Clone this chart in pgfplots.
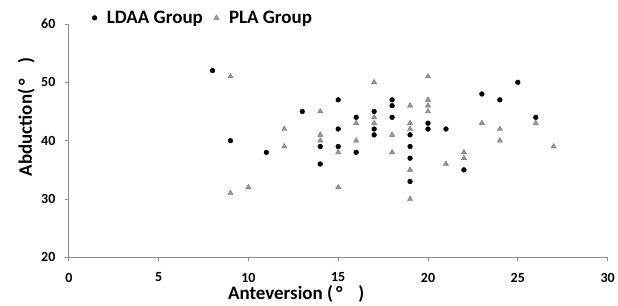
\documentclass[border=0pt]{standalone}
\usepackage{fontspec}
\setmainfont{Carlito}
\usepackage{pgfplots}
\pgfplotsset{compat=1.18}
\definecolor{axgray}{HTML}{8C8C8C}
\definecolor{trifill}{HTML}{9A9A9A}
\definecolor{triedge}{HTML}{6E6E6E}
\begin{document}
\begin{tikzpicture}
\begin{axis}[
  name=ax,
  scale only axis,
  width=540pt, height=234pt,
  xmin=0, xmax=30, ymin=20, ymax=60,
  xtick={0,5,...,30}, ytick={20,30,...,60},
  axis x line*=bottom, axis y line*=left,
  axis line style={axgray, line width=0.9pt},
  tick style={axgray, line width=0.8pt},
  major tick length=4pt,
  xtick pos=bottom, ytick pos=left,
  tick align=outside,
  /pgf/number format/assume math mode=true,
  tick label style={font=\fontsize{14}{14}\selectfont\bfseries},
  xticklabel style={yshift=-8pt},
  yticklabel style={xshift=-6pt},
  xlabel={Anteversion (\,°\;\;\;)},
  ylabel={Abduction(\,°\;\;\;)},
  label style={font=\fontsize{19}{19}\selectfont\bfseries},
  xlabel style={at={(axis description cs:0.289,-0.18)}, anchor=base west},
  ylabel style={at={(axis description cs:-0.0685,0.333)}, anchor=base west},
  legend style={draw=none, fill=none, at={(0.043,1.026)}, anchor=west,
    legend columns=2, font=\fontsize{19}{19}\selectfont\bfseries,
    /tikz/every odd column/.append style={column sep=8pt},
    /tikz/every even column/.append style={column sep=9pt},
    inner sep=0pt},
  legend cell align=left,
  clip=false,
]
\addplot[only marks, mark=*, mark size=2.4pt, black] coordinates {
(8,52)(9,40)(11,38)(13,45)(14,39)(14,36)(15,47)(15,42)(15,39)(16,44)(16,38)
(17,45)(17,42)(17,41)(18,47)(18,46)(18,44)(19,41)(19,39)(19,37)(19,33)
(20,43)(20,42)(21,42)(22,35)(23,48)(24,47)(25,50)(26,44)
};
\addlegendentry{LDAA Group}
\addplot[only marks, mark=triangle*, mark size=3pt, mark options={fill=trifill, draw=triedge, line width=0.4pt}] coordinates {
(9,51)(9,31)(10,32)(12,42)(12,39)(14,45)(14,41)(14,40)(15,38)(15,32)
(16,43)(16,40)(17,50)(17,44)(17,43)(18,41)(18,38)(19,46)(19,43)(19,42)
(19,35)(19,30)(20,51)(20,47)(20,46)(20,45)(21,36)(22,38)(22,37)(23,43)
(24,42)(24,40)(26,43)(27,39)
};
\addlegendentry{PLA Group}
\end{axis}
\path[use as bounding box] ([xshift=-69pt,yshift=-47pt]ax.south west) rectangle ([xshift=9pt,yshift=24pt]ax.north east);
\end{tikzpicture}
\end{document}
